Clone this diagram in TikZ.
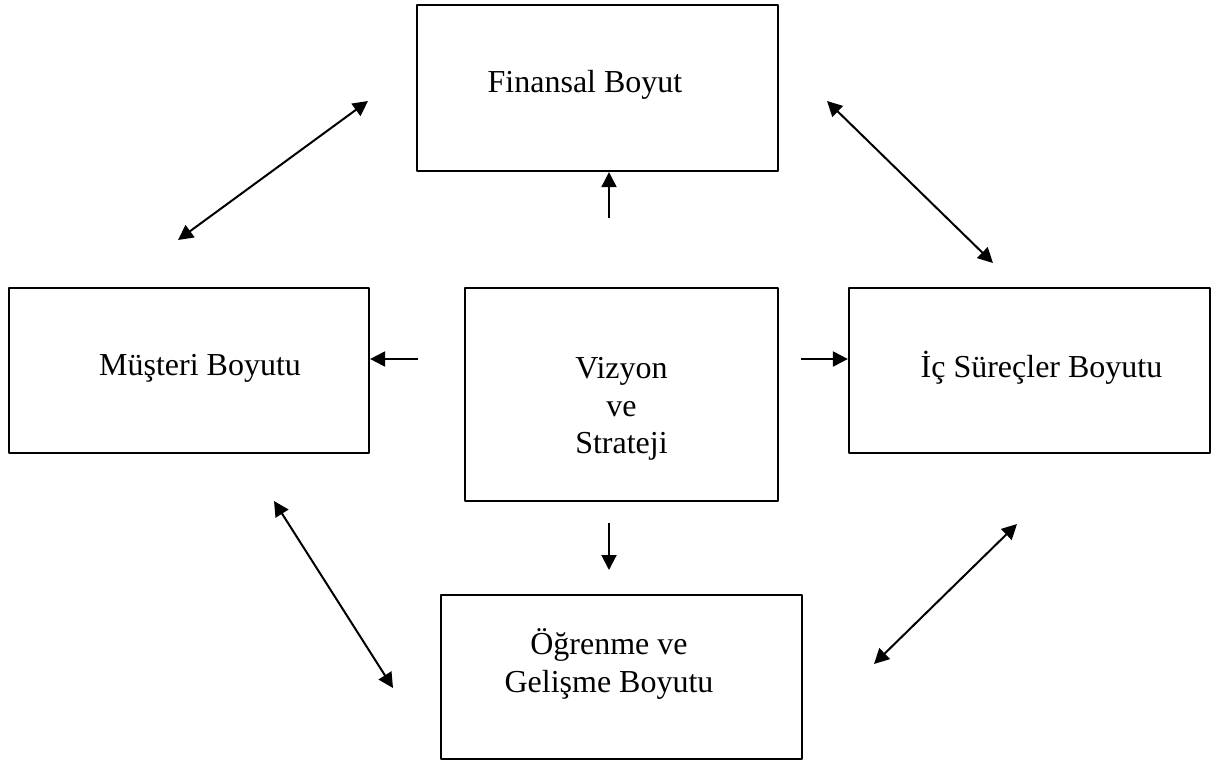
\documentclass[tikz,border=0pt]{standalone}
\usepackage{fontspec}
\setmainfont{Liberation Serif}
\usetikzlibrary{arrows.meta}
\tikzset{
  kutu/.style={draw, line width=1.1pt, inner sep=0pt},
  yazi/.style={align=center, font=\fontsize{16}{18.75}\selectfont},
}
\begin{document}
\begin{tikzpicture}[x=0.5pt, y=-0.5pt, >={Triangle[length=7.5pt,width=7.5pt]}, line width=1pt, line join=round]
	\useasboundingbox (0,0) rectangle (1215,762);
	% kutular
	\node[kutu, minimum width=180.5pt, minimum height=83pt,
		label={[yazi,shift={(-12.5,-3.5)}]center:Finansal Boyut}] (fin) at (597.5,88) {};
	\node[kutu, minimum width=180pt, minimum height=82.5pt,
		label={[yazi,shift={(11,-2)}]center:Müşteri Boyutu}] (mus) at (189,370.5) {};
	\node[kutu, minimum width=156.5pt, minimum height=106.5pt,
		label={[yazi,shift={(0,14.5)}]center:{Vizyon\\ve\\Strateji}}] (viz) at (621.5,394.5) {};
	\node[kutu, minimum width=180.5pt, minimum height=82.5pt,
		label={[yazi,shift={(12,-3)}]center:İç Süreçler Boyutu}] (ic) at (1029.5,370.5) {};
	\node[kutu, minimum width=180.5pt, minimum height=82pt,
		label={[yazi,shift={(-12.5,-13)}]center:{Öğrenme ve\\Gelişme Boyutu}}] (ogr) at (621.5,677) {};
	% tek yonlu oklar
	\coordinate (u1) at (609,218);
	\coordinate (l1) at (418,359);
	\coordinate (r1) at (801,359);
	\coordinate (a1) at (609,523); \coordinate (a2) at (609,570);
	\draw[->] (u1) -- (u1 |- fin.south);
	\draw[->] (l1) -- (l1 -| mus.east);
	\draw[->] (r1) -- (r1 -| ic.west);
	\draw[->] (a1) -- (a2);
	% cift yonlu oklar
	\coordinate (c1) at (178,240); \coordinate (c2) at (368,101);
	\coordinate (c3) at (827,101); \coordinate (c4) at (993,263);
	\coordinate (c5) at (274,501); \coordinate (c6) at (393,688);
	\coordinate (c7) at (1017,524); \coordinate (c8) at (874,664);
	\draw[<->] (c1) -- (c2);
	\draw[<->] (c3) -- (c4);
	\draw[<->] (c5) -- (c6);
	\draw[<->] (c7) -- (c8);
\end{tikzpicture}
\end{document}
